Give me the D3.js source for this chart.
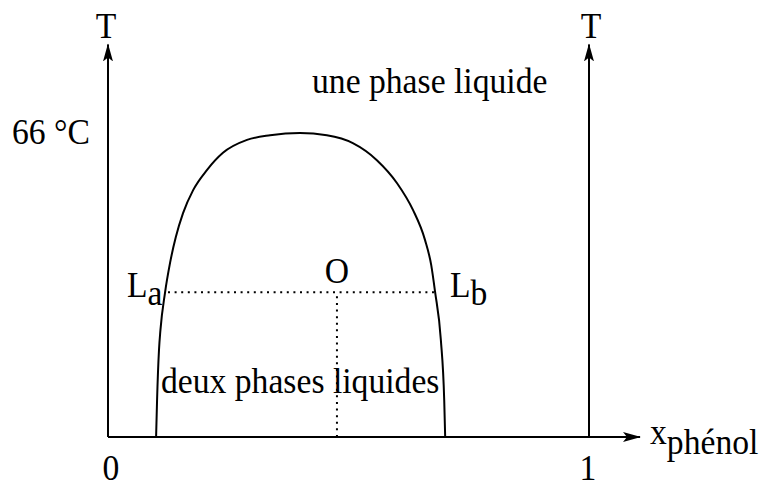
<!DOCTYPE html>
<html>
<head>
<meta charset="utf-8">
<script src="https://cdn.jsdelivr.net/npm/d3@7/dist/d3.min.js"></script>
<style>
  html, body { margin: 0; padding: 0; background: #fff; }
  svg { display: block; }
  text { font-family: "Liberation Serif", "Times New Roman", serif; fill: #000; }
</style>
</head>
<body>
<svg id="chart" width="764" height="481"></svg>
<script>
// Miscibility curve of the phenol / water system (composition vs temperature)
const curveX = [0.100, 0.102, 0.106, 0.109, 0.1185, 0.129, 0.141, 0.156, 0.177, 0.206, 0.239, 0.289, 0.337, 0.399,
                0.455, 0.509, 0.559, 0.601, 0.634, 0.659, 0.672, 0.680, 0.692, 0.699, 0.701];
const curveT = [0, 8.0, 18.9, 23.2, 31.3, 37.8, 43.4, 48.6, 53.6, 58.0, 61.7, 64.5, 65.5, 66.0,
                65.5, 63.8, 60.1, 55.1, 49.3, 42.8, 37.3, 31.5, 21.1, 8.0, 0];

// Tie line through the mixture point O
const tieT = 31.4;
const tieEnds = [0.1185, 0.680];   // La, Lb
const pointO = 0.476;

const criticalT = 66;
const axisTop = 85;
const xTicks = [0, 1];

const svg = d3.select("#chart");
const x = d3.scaleLinear().domain([0, 1]).range([108, 589]);
const y = d3.scaleLinear().domain([0, criticalT]).range([437, 133]);

const FS = 36;
const SX = 0.935;   // slightly condensed serif

function label(px, py, anchor) {
  return svg.append("text")
    .attr("transform", `translate(${px},${py}) scale(${SX},1)`)
    .attr("text-anchor", anchor || "start")
    .attr("font-size", FS);
}

// arrowhead marker
const defs = svg.append("defs");
defs.append("marker")
  .attr("id", "arrow")
  .attr("viewBox", "0 0 18 10")
  .attr("refX", 17).attr("refY", 5)
  .attr("markerWidth", 18).attr("markerHeight", 10)
  .attr("markerUnits", "userSpaceOnUse")
  .attr("orient", "auto")
  .append("path")
  .attr("d", "M0,0 L18,5 L0,10 L4,5 Z")
  .attr("fill", "#000");

const axisG = svg.append("g").attr("stroke", "#000").attr("stroke-width", 2).attr("fill", "none");

// horizontal composition axis
axisG.append("line")
  .attr("x1", x(0)).attr("y1", y(0))
  .attr("x2", x(1) + 51).attr("y2", y(0))
  .attr("marker-end", "url(#arrow)");

// temperature axes at both pure components
xTicks.forEach(v => {
  axisG.append("line")
    .attr("x1", x(v)).attr("y1", y(0))
    .attr("x2", x(v)).attr("y2", y(axisTop) - 1)
    .attr("marker-end", "url(#arrow)");
  label(x(v) + (v === 0 ? -2 : 2), 38, "middle").text("T");
  label(x(v) + (v === 0 ? 3 : -1), 480, "middle").text(String(v));
});

// demixing curve (composition increases monotonically along the dome)
const pts = curveX.map((v, i) => [x(v), y(curveT[i])]);
svg.append("path")
  .attr("d", d3.line().curve(d3.curveMonotoneX)(pts))
  .attr("fill", "none")
  .attr("stroke", "#000")
  .attr("stroke-width", 2);

// tie line and vertical through O
const dotted = svg.append("g")
  .attr("stroke", "#000").attr("stroke-width", 2)
  .attr("stroke-dasharray", "2,4.6").attr("fill", "none");
dotted.append("line")
  .attr("x1", x(tieEnds[0]) + 3).attr("y1", y(tieT))
  .attr("x2", x(tieEnds[1])).attr("y2", y(tieT));
dotted.append("line")
  .attr("x1", x(pointO)).attr("y1", y(tieT) + 4)
  .attr("x2", x(pointO)).attr("y2", y(0));

// labels
label(12, 144).text("66 °C");
label(312, 93).text("une phase liquide");
label(161, 393).text("deux phases liquides");
label(x(pointO), 283, "middle").text("O");

const la = label(127, 297);
la.append("tspan").text("L");
la.append("tspan").attr("dy", 8).text("a");

const lb = label(450, 297);
lb.append("tspan").text("L");
lb.append("tspan").attr("dy", 8).text("b");

const xl = label(650, 444);
xl.append("tspan").text("x");
xl.append("tspan").attr("dy", 10).text("phénol");
</script>
</body>
</html>
